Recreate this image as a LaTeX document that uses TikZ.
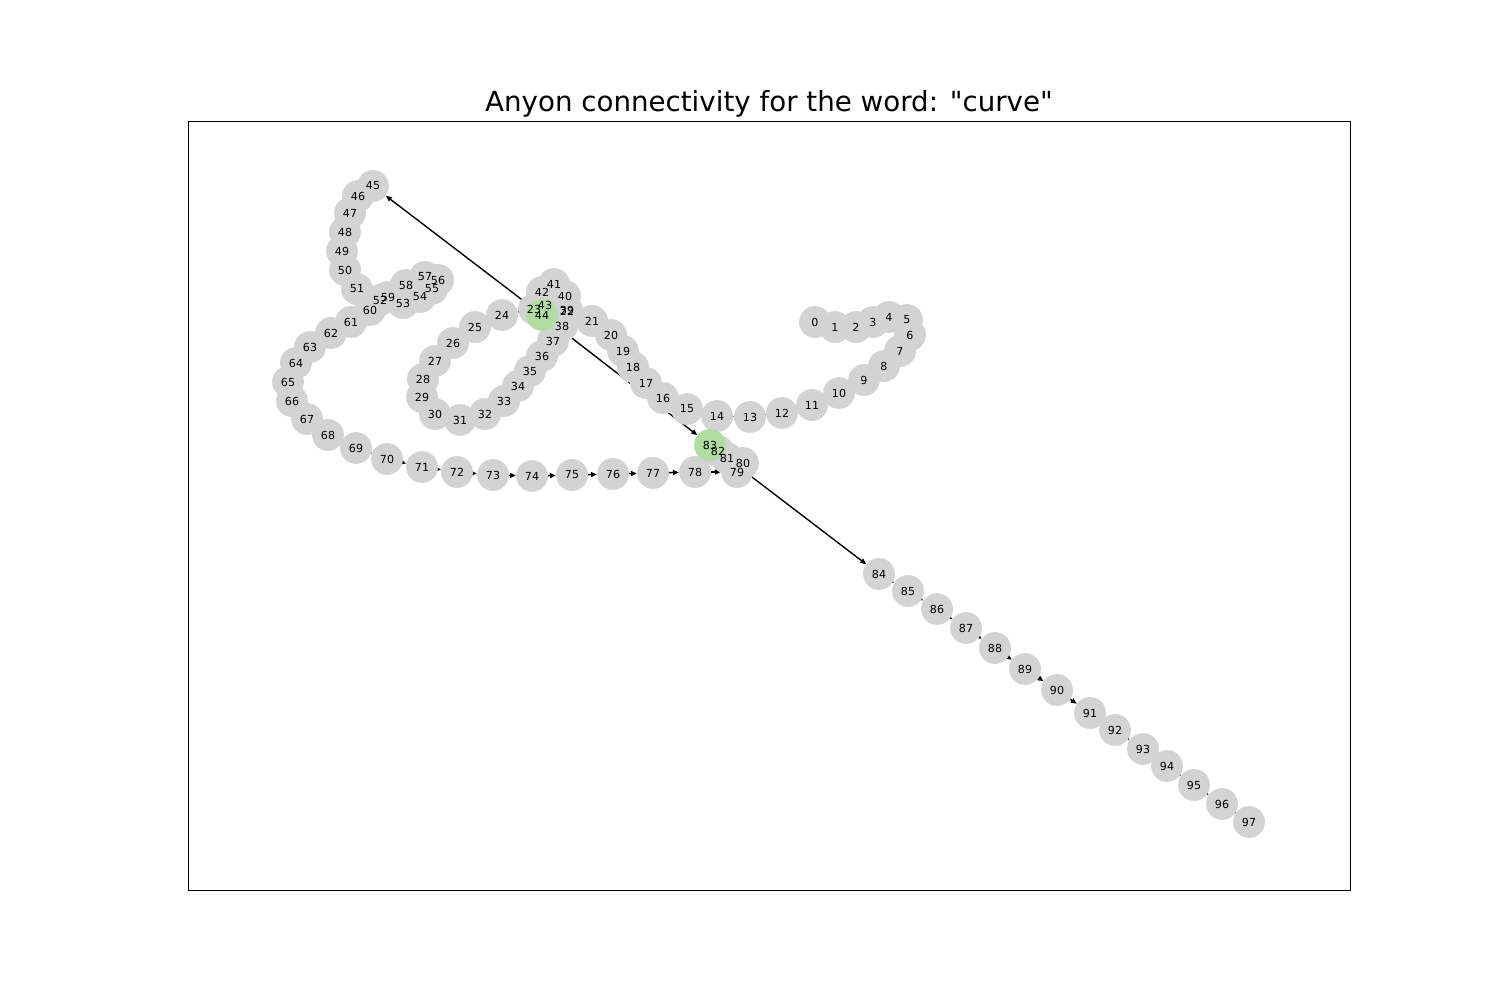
\documentclass[tikz,border=0pt]{standalone}
\usepackage{fontspec}
\setmainfont{DejaVu Sans}[Ligatures=TeXOff]
\usetikzlibrary{arrows.meta}
\definecolor{nodegray}{HTML}{D3D3D3}
\definecolor{hlgreen}{HTML}{B0DEA0}
\pgfdeclarelayer{edges}
\pgfdeclarelayer{discs}
\pgfsetlayers{edges,discs,main}
\tikzset{
  anyon/.style={circle, minimum size=23pt, inner sep=0pt,
    font=\fontsize{8}{9}\selectfont,
    append after command={\pgfextra{\begin{pgfonlayer}{discs}
      \fill[nodegray] (\tikzlastnode.center) circle (11.5pt);
    \end{pgfonlayer}}}},
  anyonhl/.style={circle, minimum size=23pt, inner sep=0pt,
    font=\fontsize{8}{9}\selectfont,
    append after command={\pgfextra{\begin{pgfonlayer}{discs}
      \fill[hlgreen] (\tikzlastnode.center) circle (11.5pt);
    \end{pgfonlayer}}}},
  link/.style={line width=1pt, -{Triangle[length=4.2pt,width=3.6pt]}},
  tight/.style={line width=1pt}
}
\begin{document}
\begin{tikzpicture}[x=0.01in, y=-0.01in]
    \useasboundingbox (0,0) rectangle (1500,1000);
    \draw[line width=0.7pt] (188,121) rectangle (1350,890);
    \node[anchor=base, font=\fontsize{20}{24}\selectfont] (title) at (769,112)
      {Anyon connectivity for the word: "curve"};

    \node[anyon] (n0) at (815,322) {0};
    \node[anyon] (n1) at (835,327) {1};
    \node[anyon] (n2) at (856,327) {2};
    \node[anyon] (n3) at (873,322) {3};
    \node[anyon] (n4) at (889,317) {4};
    \node[anyon] (n5) at (907,320) {5};
    \node[anyon] (n6) at (910,335) {6};
    \node[anyon] (n7) at (900,351) {7};
    \node[anyon] (n8) at (884,366) {8};
    \node[anyon] (n9) at (864,380) {9};
    \node[anyon] (n10) at (839,393) {10};
    \node[anyon] (n11) at (812,405) {11};
    \node[anyon] (n12) at (782,413) {12};
    \node[anyon] (n13) at (750,417) {13};
    \node[anyon] (n14) at (717,416) {14};
    \node[anyon] (n15) at (687,409) {15};
    \node[anyon] (n16) at (663,398) {16};
    \node[anyon] (n17) at (646,383) {17};
    \node[anyon] (n18) at (633,367) {18};
    \node[anyon] (n19) at (623,351) {19};
    \node[anyon] (n20) at (611,335) {20};
    \node[anyon] (n21) at (592,321) {21};
    \node[anyon] (n22) at (567,311) {22};
    \node[anyon] (n23) at (534,309) {23};
    \node[anyon] (n24) at (502,315) {24};
    \node[anyon] (n25) at (475,327) {25};
    \node[anyon] (n26) at (453,343) {26};
    \node[anyon] (n27) at (435,361) {27};
    \node[anyon] (n28) at (423,379) {28};
    \node[anyon] (n29) at (422,397) {29};
    \node[anyon] (n30) at (435,414) {30};
    \node[anyon] (n31) at (460,420) {31};
    \node[anyon] (n32) at (485,414) {32};
    \node[anyon] (n33) at (504,401) {33};
    \node[anyon] (n34) at (518,386) {34};
    \node[anyon] (n35) at (530,371) {35};
    \node[anyon] (n36) at (542,356) {36};
    \node[anyon] (n37) at (553,341) {37};
    \node[anyon] (n38) at (562,326) {38};
    \node[anyon] (n39) at (567,310) {39};
    \node[anyon] (n40) at (565,296) {40};
    \node[anyon] (n41) at (554,284) {41};
    \node[anyon] (n42) at (542,292) {42};
    \node[anyon] (n43) at (545,305) {43};
    \node[anyonhl] (n44) at (542,315) {44};
    \node[anyon] (n45) at (373,186) {45};
    \node[anyon] (n46) at (358,196) {46};
    \node[anyon] (n47) at (350,213) {47};
    \node[anyon] (n48) at (345,232) {48};
    \node[anyon] (n49) at (342,251) {49};
    \node[anyon] (n50) at (345,270) {50};
    \node[anyon] (n51) at (357,289) {51};
    \node[anyon] (n52) at (380,300) {52};
    \node[anyon] (n53) at (403,303) {53};
    \node[anyon] (n54) at (420,297) {54};
    \node[anyon] (n55) at (432,289) {55};
    \node[anyon] (n56) at (438,280) {56};
    \node[anyon] (n57) at (425,277) {57};
    \node[anyon] (n58) at (406,285) {58};
    \node[anyon] (n59) at (388,297) {59};
    \node[anyon] (n60) at (370,310) {60};
    \node[anyon] (n61) at (351,322) {61};
    \node[anyon] (n62) at (331,333) {62};
    \node[anyon] (n63) at (310,347) {63};
    \node[anyon] (n64) at (296,363) {64};
    \node[anyon] (n65) at (288,382) {65};
    \node[anyon] (n66) at (292,401) {66};
    \node[anyon] (n67) at (307,419) {67};
    \node[anyon] (n68) at (328,435) {68};
    \node[anyon] (n69) at (356,448) {69};
    \node[anyon] (n70) at (387,459) {70};
    \node[anyon] (n71) at (422,467) {71};
    \node[anyon] (n72) at (457,472) {72};
    \node[anyon] (n73) at (493,475) {73};
    \node[anyon] (n74) at (532,476) {74};
    \node[anyon] (n75) at (572,475) {75};
    \node[anyon] (n76) at (613,474) {76};
    \node[anyon] (n77) at (653,473) {77};
    \node[anyon] (n78) at (695,472) {78};
    \node[anyon] (n79) at (737,472) {79};
    \node[anyon] (n80) at (743,463) {80};
    \node[anyon] (n81) at (727,458) {81};
    \node[anyon] (n82) at (718,451) {82};
    \node[anyonhl] (n83) at (710,445) {83};
    \node[anyon] (n84) at (879,574) {84};
    \node[anyon] (n85) at (908,591) {85};
    \node[anyon] (n86) at (937,609) {86};
    \node[anyon] (n87) at (966,628) {87};
    \node[anyon] (n88) at (995,648) {88};
    \node[anyon] (n89) at (1025,669) {89};
    \node[anyon] (n90) at (1057,690) {90};
    \node[anyon] (n91) at (1090,713) {91};
    \node[anyon] (n92) at (1115,730) {92};
    \node[anyon] (n93) at (1143,749) {93};
    \node[anyon] (n94) at (1167,766) {94};
    \node[anyon] (n95) at (1194,785) {95};
    \node[anyon] (n96) at (1222,804) {96};
    \node[anyon] (n97) at (1249,822) {97};

    % overlapping neighbours: centre to centre, no tip, it would stick out
    \begin{pgfonlayer}{edges}
    \draw[tight] (n0.center) -- (n1.center);
    \draw[tight] (n1.center) -- (n2.center);
    \draw[tight] (n2.center) -- (n3.center);
    \draw[tight] (n3.center) -- (n4.center);
    \draw[tight] (n4.center) -- (n5.center);
    \draw[tight] (n5.center) -- (n6.center);
    \draw[tight] (n6.center) -- (n7.center);
    \draw[tight] (n7.center) -- (n8.center);
    \draw[tight] (n8.center) -- (n9.center);
    \draw[tight] (n9.center) -- (n10.center);
    \draw[tight] (n10.center) -- (n11.center);
    \draw[tight] (n11.center) -- (n12.center);
    \draw[link] (n12) -- (n13);
    \draw[link] (n13) -- (n14);
    \draw[tight] (n14.center) -- (n15.center);
    \draw[tight] (n15.center) -- (n16.center);
    \draw[tight] (n16.center) -- (n17.center);
    \draw[tight] (n17.center) -- (n18.center);
    \draw[tight] (n18.center) -- (n19.center);
    \draw[tight] (n19.center) -- (n20.center);
    \draw[tight] (n20.center) -- (n21.center);
    \draw[tight] (n21.center) -- (n22.center);
    \draw[link] (n22) -- (n23);
    \draw[link] (n23) -- (n24);
    \draw[tight] (n24.center) -- (n25.center);
    \draw[tight] (n25.center) -- (n26.center);
    \draw[tight] (n26.center) -- (n27.center);
    \draw[tight] (n27.center) -- (n28.center);
    \draw[tight] (n28.center) -- (n29.center);
    \draw[tight] (n29.center) -- (n30.center);
    \draw[tight] (n30.center) -- (n31.center);
    \draw[tight] (n31.center) -- (n32.center);
    \draw[tight] (n32.center) -- (n33.center);
    \draw[tight] (n33.center) -- (n34.center);
    \draw[tight] (n34.center) -- (n35.center);
    \draw[tight] (n35.center) -- (n36.center);
    \draw[tight] (n36.center) -- (n37.center);
    \draw[tight] (n37.center) -- (n38.center);
    \draw[tight] (n38.center) -- (n39.center);
    \draw[tight] (n39.center) -- (n40.center);
    \draw[tight] (n40.center) -- (n41.center);
    \draw[tight] (n41.center) -- (n42.center);
    \draw[tight] (n42.center) -- (n43.center);
    \draw[tight] (n43.center) -- (n44.center);
    \draw[link] (n44) -- (n45);
    \draw[link] (n44) -- (n83);
    \draw[tight] (n45.center) -- (n46.center);
    \draw[tight] (n46.center) -- (n47.center);
    \draw[tight] (n47.center) -- (n48.center);
    \draw[tight] (n48.center) -- (n49.center);
    \draw[tight] (n49.center) -- (n50.center);
    \draw[tight] (n50.center) -- (n51.center);
    \draw[tight] (n51.center) -- (n52.center);
    \draw[tight] (n52.center) -- (n53.center);
    \draw[tight] (n53.center) -- (n54.center);
    \draw[tight] (n54.center) -- (n55.center);
    \draw[tight] (n55.center) -- (n56.center);
    \draw[tight] (n56.center) -- (n57.center);
    \draw[tight] (n57.center) -- (n58.center);
    \draw[tight] (n58.center) -- (n59.center);
    \draw[tight] (n59.center) -- (n60.center);
    \draw[tight] (n60.center) -- (n61.center);
    \draw[tight] (n61.center) -- (n62.center);
    \draw[tight] (n62.center) -- (n63.center);
    \draw[tight] (n63.center) -- (n64.center);
    \draw[tight] (n64.center) -- (n65.center);
    \draw[tight] (n65.center) -- (n66.center);
    \draw[tight] (n66.center) -- (n67.center);
    \draw[tight] (n67.center) -- (n68.center);
    \draw[tight] (n68.center) -- (n69.center);
    \draw[link] (n69) -- (n70);
    \draw[link] (n70) -- (n71);
    \draw[link] (n71) -- (n72);
    \draw[link] (n72) -- (n73);
    \draw[link] (n73) -- (n74);
    \draw[link] (n74) -- (n75);
    \draw[link] (n75) -- (n76);
    \draw[link] (n76) -- (n77);
    \draw[link] (n77) -- (n78);
    \draw[link] (n78) -- (n79);
    \draw[tight] (n79.center) -- (n80.center);
    \draw[tight] (n80.center) -- (n81.center);
    \draw[tight] (n81.center) -- (n82.center);
    \draw[tight] (n82.center) -- (n83.center);
    \draw[link] (n83) -- (n84);
    \draw[link] (n84) -- (n85);
    \draw[link] (n85) -- (n86);
    \draw[link] (n86) -- (n87);
    \draw[link] (n87) -- (n88);
    \draw[link] (n88) -- (n89);
    \draw[link] (n89) -- (n90);
    \draw[link] (n90) -- (n91);
    \draw[tight] (n91.center) -- (n92.center);
    \draw[link] (n92) -- (n93);
    \draw[tight] (n93.center) -- (n94.center);
    \draw[link] (n94) -- (n95);
    \draw[link] (n95) -- (n96);
    \draw[link] (n96) -- (n97);
    \end{pgfonlayer}
\end{tikzpicture}
\end{document}
